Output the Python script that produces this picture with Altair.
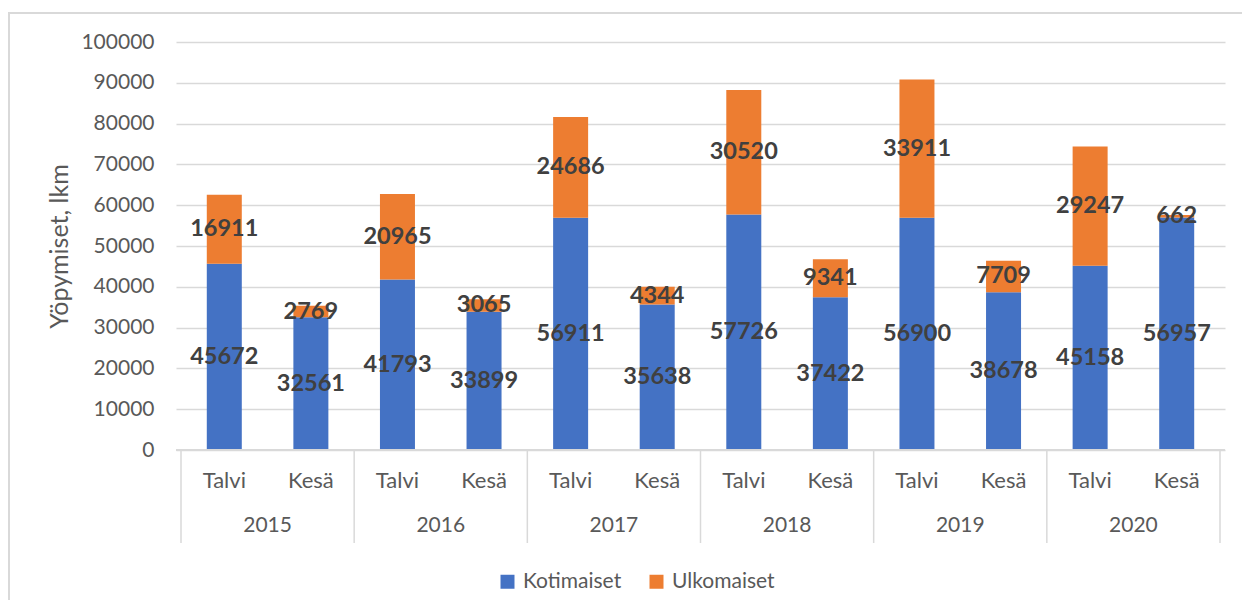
import altair as alt
import pandas as pd

years = ["2015", "2016", "2017", "2018", "2019", "2020"]
seasons = ["Talvi", "Kesä"]
series = ["Kotimaiset", "Ulkomaiset"]
kotimaiset = [45672, 32561, 41793, 33899, 56911, 35638, 57726, 37422, 56900, 38678, 45158, 56957]
ulkomaiset = [16911, 2769, 20965, 3065, 24686, 4344, 30520, 9341, 33911, 7709, 29247, 662]
y_ticks = list(range(0, 100001, 10000))

rows = []
for i in range(len(kotimaiset)):
    yr = years[i // 2]
    se = seasons[i % 2]
    rows.append({"idx": i, "year": yr, "season": se, "series": series[0], "ord": 0, "value": kotimaiset[i]})
    rows.append({"idx": i, "year": yr, "season": se, "series": series[1], "ord": 1, "value": ulkomaiset[i]})
df = pd.DataFrame(rows)
bounds = pd.DataFrame({"b": [k * 2 - 0.5 for k in range(len(years) + 1)]})

W, H = 1049, 408
FONT = "Lato"
GREY = "#595959"
xscale = alt.Scale(domain=[-0.5, len(kotimaiset) - 0.5], nice=False, zero=False)

base = alt.Chart(df)

bars = base.mark_bar(size=35).encode(
    x=alt.X("idx:Q", scale=xscale, axis=None),
    y=alt.Y("value:Q", stack="zero",
            scale=alt.Scale(domain=[0, 100000], nice=False),
            axis=alt.Axis(values=y_ticks, format="d", title="Yöpymiset, lkm",
                          domain=False, ticks=False, labelPadding=22,
                          labelFont=FONT, labelFontSize=21, labelColor=GREY,
                          titleFont=FONT, titleFontSize=25, titleFontWeight="normal",
                          titleColor=GREY, titlePadding=8,
                          gridColor="#d9d9d9", gridWidth=1.3)),
    color=alt.Color("series:N", scale=alt.Scale(domain=series, range=["#4472C4", "#ED7D31"]),
                    legend=alt.Legend(title=None, orient="none", direction="horizontal",
                                      legendX=321, legendY=529, symbolType="square",
                                      symbolSize=196, symbolStrokeWidth=0,
                                      labelFont=FONT, labelFontSize=21, labelColor=GREY,
                                      labelOffset=5, columnPadding=24, padding=0)),
    order=alt.Order("ord:Q"),
)

labels = base.transform_stack(
    stack="value", groupby=["idx"], as_=["v0", "v1"], sort=[alt.SortField("ord")]
).transform_calculate(mid="(datum.v0 + datum.v1) / 2").mark_text(
    font=FONT, fontSize=23.5, fontWeight="bold", color="#404040", baseline="middle"
).encode(
    x=alt.X("idx:Q", scale=xscale),
    y=alt.Y("mid:Q"),
    text=alt.Text("value:Q", format="d"),
)

season_text = base.transform_filter(alt.datum.ord == 0).mark_text(
    font=FONT, fontSize=22, color=GREY, baseline="middle"
).encode(
    x=alt.X("idx:Q", scale=xscale),
    y=alt.value(H + 31),
    text="season:N",
)

year_text = base.transform_filter(alt.datum.ord == 0).transform_aggregate(
    pos="mean(idx)", groupby=["year"]
).mark_text(font=FONT, fontSize=21, color=GREY, baseline="middle").encode(
    x=alt.X("pos:Q", scale=xscale),
    y=alt.value(H + 76),
    text="year:N",
)

seps = alt.Chart(bounds).mark_rule(color="#d9d9d9", strokeWidth=1.5).encode(
    x=alt.X("b:Q", scale=xscale),
    y=alt.value(H),
    y2=alt.value(H + 93),
)

axis_line = alt.Chart(bounds).mark_rule(color="#d9d9d9", strokeWidth=1.5).encode(
    x=alt.value(0), x2=alt.value(W), y=alt.value(H)
)

frame = alt.Chart(bounds).mark_rect(fill=None, stroke="#d9d9d9", strokeWidth=1.5).encode(
    x=alt.value(-167), x2=alt.value(1080), y=alt.value(-29), y2=alt.value(600)
)

chart = alt.layer(frame, bars, axis_line, seps, labels, season_text, year_text).properties(
    width=W, height=H,
    autosize=alt.AutoSizeParams(type="none"),
    padding={"left": 168, "top": 34, "right": 17, "bottom": 150},
    background="white",
).configure_view(stroke=None)

chart.save("out.html", embed_options={"renderer": "svg", "actions": False})
